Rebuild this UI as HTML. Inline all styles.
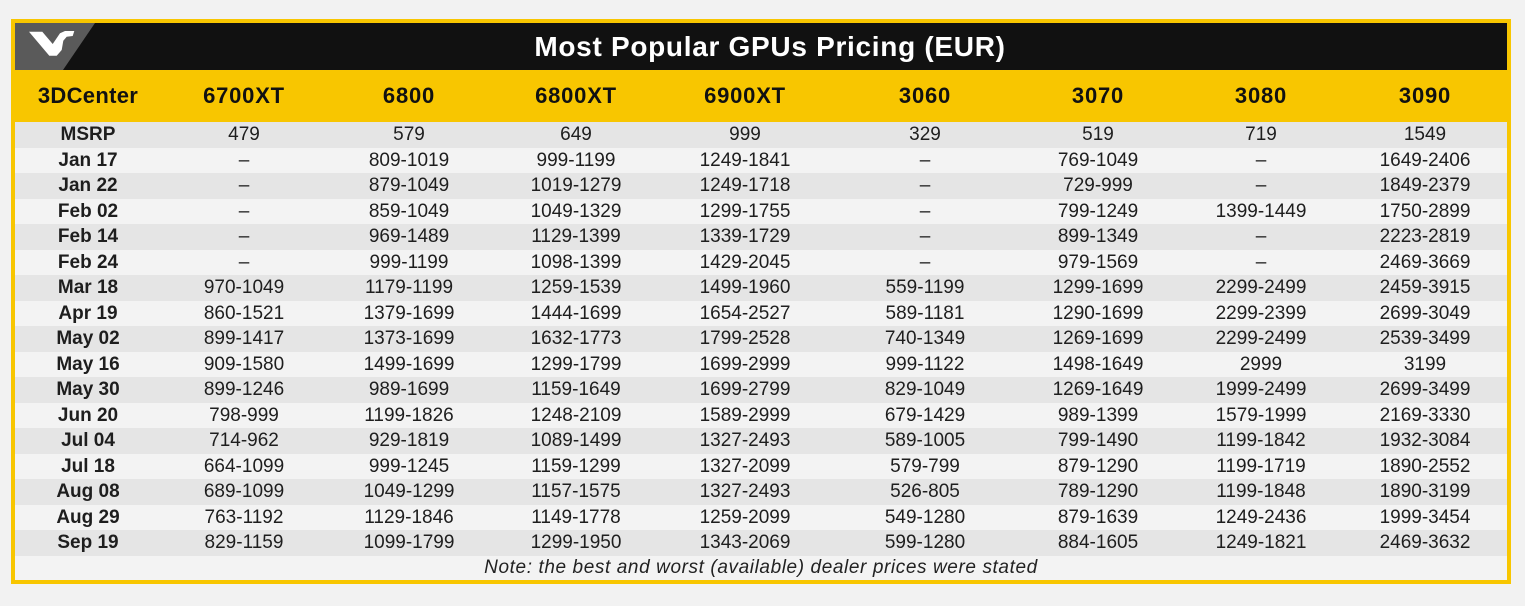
<!DOCTYPE html>
<html><head><meta charset="utf-8">
<style>
*{margin:0;padding:0;box-sizing:border-box}
html,body{width:1525px;height:606px;background:#f2f2f2;overflow:hidden;font-family:"Liberation Sans",sans-serif;}
#frame{position:absolute;left:11px;top:19px;width:1500px;height:565px;border:4px solid #f8c600;background:#f3f3f3;}
#titlebar{position:absolute;left:15px;top:23px;width:1492px;height:47px;background:#111;}
#title{position:absolute;left:15px;top:23px;width:1510px;height:47px;line-height:47px;text-align:center;color:#fff;font-weight:bold;font-size:28px;letter-spacing:0.7px;}
#logo{position:absolute;left:15px;top:23px;}
#hdr{position:absolute;left:15px;top:70px;width:1492px;height:52px;background:#f8c600;}
.h{position:absolute;top:70px;height:52px;line-height:52px;width:200px;text-align:center;font-weight:bold;font-size:22px;color:#111;letter-spacing:0.8px;}
#rows{position:absolute;left:15px;top:122px;width:1492px;}
.r{position:relative;height:25.53px;width:1492px;}
.r.d{background:#e5e5e5}
.r.l{background:#f3f3f3}
.r span{position:absolute;top:0;width:200px;text-align:center;line-height:25.53px;font-size:19px;color:#1e1e1e;}
.r span.b{font-weight:bold;}
.c0{left:-27px}.c1{left:129px}.c2{left:294px}.c3{left:461px}.c4{left:630px}.c5{left:810px}.c6{left:983px}.c7{left:1146px}.c8{left:1310px}
#note{position:absolute;left:15px;top:556px;width:1492px;height:24px;line-height:24px;text-align:center;font-style:italic;font-size:19px;letter-spacing:0.6px;color:#222;}
</style></head><body>
<div id="frame"></div>
<div id="titlebar"></div>
<svg id="logo" width="90" height="47" viewBox="15 23 90 47">
<polygon points="15,23 95,23 63,70 15,70" fill="#5a5a5a"/>
<polygon points="29,31.7 42.3,31.7 52.7,44 60,33.3 65,31 74.3,31 72.7,36 66.7,36.7 63.3,40.7 61.7,50 56.7,55.7 49.3,55.7" fill="#fff"/>
</svg>
<div id="title">Most Popular GPUs Pricing (EUR)</div>
<div id="hdr"></div>
<div class="h" style="left:-12px;letter-spacing:0.3px">3DCenter</div>
<div class="h" style="left:144px">6700XT</div>
<div class="h" style="left:309px">6800</div>
<div class="h" style="left:476px">6800XT</div>
<div class="h" style="left:645px">6900XT</div>
<div class="h" style="left:825px">3060</div>
<div class="h" style="left:998px">3070</div>
<div class="h" style="left:1161px">3080</div>
<div class="h" style="left:1325px">3090</div>
<div id="rows">
<div class="r d"><span class="c0 b">MSRP</span><span class="c1">479</span><span class="c2">579</span><span class="c3">649</span><span class="c4">999</span><span class="c5">329</span><span class="c6">519</span><span class="c7">719</span><span class="c8">1549</span></div>
<div class="r l"><span class="c0 b">Jan 17</span><span class="c1">–</span><span class="c2">809-1019</span><span class="c3">999-1199</span><span class="c4">1249-1841</span><span class="c5">–</span><span class="c6">769-1049</span><span class="c7">–</span><span class="c8">1649-2406</span></div>
<div class="r d"><span class="c0 b">Jan 22</span><span class="c1">–</span><span class="c2">879-1049</span><span class="c3">1019-1279</span><span class="c4">1249-1718</span><span class="c5">–</span><span class="c6">729-999</span><span class="c7">–</span><span class="c8">1849-2379</span></div>
<div class="r l"><span class="c0 b">Feb 02</span><span class="c1">–</span><span class="c2">859-1049</span><span class="c3">1049-1329</span><span class="c4">1299-1755</span><span class="c5">–</span><span class="c6">799-1249</span><span class="c7">1399-1449</span><span class="c8">1750-2899</span></div>
<div class="r d"><span class="c0 b">Feb 14</span><span class="c1">–</span><span class="c2">969-1489</span><span class="c3">1129-1399</span><span class="c4">1339-1729</span><span class="c5">–</span><span class="c6">899-1349</span><span class="c7">–</span><span class="c8">2223-2819</span></div>
<div class="r l"><span class="c0 b">Feb 24</span><span class="c1">–</span><span class="c2">999-1199</span><span class="c3">1098-1399</span><span class="c4">1429-2045</span><span class="c5">–</span><span class="c6">979-1569</span><span class="c7">–</span><span class="c8">2469-3669</span></div>
<div class="r d"><span class="c0 b">Mar 18</span><span class="c1">970-1049</span><span class="c2">1179-1199</span><span class="c3">1259-1539</span><span class="c4">1499-1960</span><span class="c5">559-1199</span><span class="c6">1299-1699</span><span class="c7">2299-2499</span><span class="c8">2459-3915</span></div>
<div class="r l"><span class="c0 b">Apr 19</span><span class="c1">860-1521</span><span class="c2">1379-1699</span><span class="c3">1444-1699</span><span class="c4">1654-2527</span><span class="c5">589-1181</span><span class="c6">1290-1699</span><span class="c7">2299-2399</span><span class="c8">2699-3049</span></div>
<div class="r d"><span class="c0 b">May 02</span><span class="c1">899-1417</span><span class="c2">1373-1699</span><span class="c3">1632-1773</span><span class="c4">1799-2528</span><span class="c5">740-1349</span><span class="c6">1269-1699</span><span class="c7">2299-2499</span><span class="c8">2539-3499</span></div>
<div class="r l"><span class="c0 b">May 16</span><span class="c1">909-1580</span><span class="c2">1499-1699</span><span class="c3">1299-1799</span><span class="c4">1699-2999</span><span class="c5">999-1122</span><span class="c6">1498-1649</span><span class="c7">2999</span><span class="c8">3199</span></div>
<div class="r d"><span class="c0 b">May 30</span><span class="c1">899-1246</span><span class="c2">989-1699</span><span class="c3">1159-1649</span><span class="c4">1699-2799</span><span class="c5">829-1049</span><span class="c6">1269-1649</span><span class="c7">1999-2499</span><span class="c8">2699-3499</span></div>
<div class="r l"><span class="c0 b">Jun 20</span><span class="c1">798-999</span><span class="c2">1199-1826</span><span class="c3">1248-2109</span><span class="c4">1589-2999</span><span class="c5">679-1429</span><span class="c6">989-1399</span><span class="c7">1579-1999</span><span class="c8">2169-3330</span></div>
<div class="r d"><span class="c0 b">Jul 04</span><span class="c1">714-962</span><span class="c2">929-1819</span><span class="c3">1089-1499</span><span class="c4">1327-2493</span><span class="c5">589-1005</span><span class="c6">799-1490</span><span class="c7">1199-1842</span><span class="c8">1932-3084</span></div>
<div class="r l"><span class="c0 b">Jul 18</span><span class="c1">664-1099</span><span class="c2">999-1245</span><span class="c3">1159-1299</span><span class="c4">1327-2099</span><span class="c5">579-799</span><span class="c6">879-1290</span><span class="c7">1199-1719</span><span class="c8">1890-2552</span></div>
<div class="r d"><span class="c0 b">Aug 08</span><span class="c1">689-1099</span><span class="c2">1049-1299</span><span class="c3">1157-1575</span><span class="c4">1327-2493</span><span class="c5">526-805</span><span class="c6">789-1290</span><span class="c7">1199-1848</span><span class="c8">1890-3199</span></div>
<div class="r l"><span class="c0 b">Aug 29</span><span class="c1">763-1192</span><span class="c2">1129-1846</span><span class="c3">1149-1778</span><span class="c4">1259-2099</span><span class="c5">549-1280</span><span class="c6">879-1639</span><span class="c7">1249-2436</span><span class="c8">1999-3454</span></div>
<div class="r d"><span class="c0 b">Sep 19</span><span class="c1">829-1159</span><span class="c2">1099-1799</span><span class="c3">1299-1950</span><span class="c4">1343-2069</span><span class="c5">599-1280</span><span class="c6">884-1605</span><span class="c7">1249-1821</span><span class="c8">2469-3632</span></div>
</div>
<div id="note">Note: the best and worst (available) dealer prices were stated</div>
</body></html>
